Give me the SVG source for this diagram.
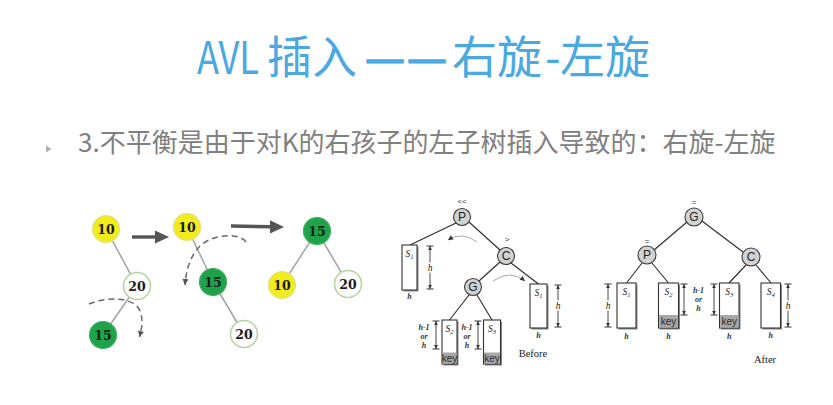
<svg xmlns="http://www.w3.org/2000/svg" width="833" height="405" viewBox="0 0 833 405">
  <defs>
    <style>
      .title { font-family: "Noto Sans CJK SC", "Noto Sans", sans-serif; font-size: 45px; fill: #4AA9DF; }
      .bar { stroke: #4AA9DF; stroke-width: 1.6; }
      .sub { font-family: "Noto Sans CJK SC", "Noto Sans", sans-serif; font-size: 26px; fill: #808080; }
      .edge { stroke: #A3A3A3; stroke-width: 1.5; fill: none; }
      .num { font-family: "DejaVu Serif", "Liberation Serif", serif; font-weight: bold; font-size: 12.5px; fill: #1A1A1A; text-anchor: middle; }
      .yel { fill: #F2EC1C; stroke: #E3E08A; stroke-width: 1.2; }
      .grn { fill: #1FA34A; stroke: #3DAE60; stroke-width: 1.2; }
      .wht { fill: #FFFFFF; stroke: #B9D3A0; stroke-width: 1.6; }
      .fat { stroke: #555555; stroke-width: 3.4; fill: none; }
      .dash { stroke: #6A6A6A; stroke-width: 1.5; fill: none; stroke-dasharray: 6 4; }
      .link { stroke: #2B2B2B; stroke-width: 1.1; fill: none; }
      .gnode { fill: #D2D2D2; stroke: #3A3A3A; stroke-width: 1.1; }
      .glab { font-family: "Liberation Sans", Arial, sans-serif; font-size: 12px; fill: #222; text-anchor: middle; }
      .box { fill: #FFFFFF; stroke: #333333; stroke-width: 1.1; }
      .shade { fill: #8A8A8A; }
      .keybg { fill: #A8A8A8; }
      .key { font-family: "Liberation Sans", Arial, sans-serif; font-size: 10px; fill: #2A2A2A; text-anchor: middle; }
      .it { font-family: "Liberation Serif", "Times New Roman", serif; font-style: italic; font-size: 9.5px; fill: #222; text-anchor: middle; }
      .itb { font-family: "Liberation Serif", "Times New Roman", serif; font-style: italic; font-weight: bold; font-size: 8px; fill: #333; text-anchor: middle; }
      .hl { paint-order: stroke; stroke: #FFFFFF; stroke-width: 3; }
      .dim { stroke: #333; stroke-width: 0.9; fill: none; marker-start: url(#dimEnd); marker-end: url(#dimEnd); }
      .bal { font-family: "Liberation Sans", Arial, sans-serif; font-size: 8px; fill: #333; text-anchor: middle; }
      .cap { font-family: "Liberation Serif", "Times New Roman", serif; font-size: 10.5px; fill: #222; text-anchor: middle; }
      .turn { stroke: #A8A8A8; stroke-width: 1; fill: none; marker-end: url(#tipSmall); }
    </style>
    <marker id="dimEnd" viewBox="-5 -4 6 8" refX="0" refY="0" markerWidth="6" markerHeight="8" markerUnits="userSpaceOnUse" orient="auto-start-reverse">
      <path d="M-4,-1.8 L0,0 L-4,1.8 Z" fill="#333"/>
      <path d="M0,-3.5 V3.5" stroke="#333" stroke-width="1"/>
    </marker>
    <marker id="tipSmall" viewBox="-6 -4 7 8" refX="0" refY="0" markerWidth="7" markerHeight="8" markerUnits="userSpaceOnUse" orient="auto">
      <path d="M-5,-2.5 L0,0 L-5,2.5 Z" fill="#333"/>
    </marker>
    <marker id="tipDash" viewBox="-7 -4 8 8" refX="0" refY="0" markerWidth="8" markerHeight="8" markerUnits="userSpaceOnUse" orient="auto">
      <path d="M-6,-3 L0,0 L-6,3 Z" fill="#555"/>
    </marker>
  </defs>

  <rect width="833" height="405" fill="#FFFFFF"/>

  <!-- heading -->
  <text class="title" y="74"><tspan x="197" textLength="62" lengthAdjust="spacingAndGlyphs">AVL</tspan><tspan x="267">插入</tspan><tspan class="bar" x="365" textLength="40" lengthAdjust="spacingAndGlyphs">—</tspan><tspan class="bar" x="407" textLength="40" lengthAdjust="spacingAndGlyphs">—</tspan><tspan x="452">右旋</tspan><tspan x="545">-</tspan><tspan x="560">左旋</tspan></text>

  <!-- bullet line -->
  <polygon points="46,145.5 51.5,149 46,152.5" fill="#B0B0B0"/>
  <text class="sub" x="78" y="152">3.不平衡是由于对K的右孩子的左子树插入导致的：右旋-左旋</text>

  <!-- ===== left sketch: 10 / 20 / 15 double rotation ===== -->
  <g id="sketch-edges">
    <line class="edge" x1="106" y1="229" x2="137" y2="286"/>
    <line class="edge" x1="137" y1="286" x2="103" y2="335"/>
    <line class="edge" x1="187" y1="227" x2="213" y2="282"/>
    <line class="edge" x1="213" y1="282" x2="244" y2="334"/>
    <line class="edge" x1="317" y1="231" x2="282" y2="285"/>
    <line class="edge" x1="317" y1="231" x2="348" y2="284"/>
    <!-- step arrows -->
    <line class="fat" x1="132" y1="237" x2="157" y2="237"/>
    <polygon points="155,230.5 169,237 155,243.5" fill="#555"/>
    <line class="fat" x1="231" y1="226" x2="272" y2="226.8"/>
    <polygon points="270,220.3 284,227 270,233.5" fill="#555"/>
    <!-- rotation hints -->
    <path class="dash" d="M89,304 C105,297 134,296 140,311 C144,321 141,331 139.5,337" marker-end="url(#tipDash)"/>
    <path class="dash" d="M246,242 C240,233 214,233 200,246 C190,256 186,271 185,285" marker-end="url(#tipDash)"/>
  </g>

  <g id="n10a"><circle class="yel" cx="106" cy="229" r="13.5"/><text class="num" x="106" y="233.5">10</text></g>
  <g id="n20a"><circle class="wht" cx="137" cy="286" r="13.5"/><text class="num" x="137" y="290.5">20</text></g>
  <g id="n15a"><circle class="grn" cx="103" cy="335" r="13.5"/><text class="num" x="103" y="339.5">15</text></g>

  <g id="n10b"><circle class="yel" cx="187" cy="227" r="13.5"/><text class="num" x="187" y="231.5">10</text></g>
  <g id="n15b"><circle class="grn" cx="213" cy="282" r="13.5"/><text class="num" x="213" y="286.5">15</text></g>
  <g id="n20b"><circle class="wht" cx="244" cy="334" r="13.5"/><text class="num" x="244" y="338.5">20</text></g>

  <g id="n15c"><circle class="grn" cx="317" cy="231" r="13.5"/><text class="num" x="317" y="235.5">15</text></g>
  <g id="n10c"><circle class="yel" cx="282" cy="285" r="13.5"/><text class="num" x="282" y="289.5">10</text></g>
  <g id="n20c"><circle class="wht" cx="348" cy="284" r="13.5"/><text class="num" x="348" y="288.5">20</text></g>

  <!-- ===== middle figure: before ===== -->
  <g id="before-links">
    <line class="link" x1="456" y1="223" x2="410" y2="245"/>
    <line class="link" x1="469" y1="222" x2="500" y2="250"/>
    <line class="link" x1="500" y1="262" x2="479" y2="281"/>
    <line class="link" x1="511" y1="263" x2="538.5" y2="284"/>
    <line class="link" x1="469" y1="295" x2="449.5" y2="320"/>
    <line class="link" x1="477" y1="295" x2="492" y2="320"/>
    <path class="turn" d="M477,242 Q462,231 448,240"/>
    <path class="turn" d="M493,281 Q510,269 525,281"/>
  </g>

  <g id="bP"><text class="bal" x="462" y="204">&lt;&lt;</text><circle class="gnode" cx="462" cy="217" r="8.5"/><text class="glab" x="462" y="221.3">P</text></g>
  <g id="bC"><text class="bal" x="507" y="242">&gt;</text><circle class="gnode" cx="506" cy="256" r="8.5"/><text class="glab" x="506" y="260.3">C</text></g>
  <g id="bG"><circle class="gnode" cx="473" cy="287" r="8.5"/><text class="glab" x="473" y="291.3">G</text></g>

  <g id="bS1">
    <rect class="shade" x="403.5" y="246.5" width="15" height="45"/>
    <rect class="box" x="402" y="245" width="15" height="45"/>
    <text class="it" x="409.5" y="257">S<tspan font-size="6.5" dy="2">1</tspan></text>
    <line class="dim" x1="430" y1="246" x2="430" y2="289"/>
    <text class="it hl" x="430" y="271">h</text>
    <text class="itb" x="409.5" y="299">h</text>
  </g>
  <g id="bS4">
    <rect class="shade" x="531.5" y="285.5" width="17" height="44"/>
    <rect class="box" x="530" y="284" width="17" height="44"/>
    <text class="it" x="538.5" y="296">S<tspan font-size="6.5" dy="2">1</tspan></text>
    <line class="dim" x1="558" y1="285" x2="558" y2="327"/>
    <text class="it hl" x="558" y="309">h</text>
    <text class="itb" x="538.5" y="338">h</text>
  </g>
  <g id="bS2">
    <rect class="shade" x="443.5" y="321.5" width="15" height="44"/>
    <rect class="box" x="442" y="320" width="15" height="44"/>
    <rect class="keybg" x="442.6" y="352.5" width="13.8" height="10.9"/>
    <text class="key" x="449.5" y="361.5">key</text>
    <text class="it" x="449.5" y="332">S<tspan font-size="6.5" dy="2">2</tspan></text>
    <line class="dim" x1="436" y1="321" x2="436" y2="349"/>
    <text class="itb" x="424" y="330">h-1</text>
    <text class="itb" x="424" y="339">or</text>
    <text class="itb" x="424" y="348">h</text>
  </g>
  <g id="bS3">
    <rect class="shade" x="485" y="321.5" width="17" height="44"/>
    <rect class="box" x="483.5" y="320" width="17" height="44"/>
    <rect class="keybg" x="484.1" y="352.5" width="15.8" height="10.9"/>
    <text class="key" x="492" y="361.5">key</text>
    <text class="it" x="492" y="332">S<tspan font-size="6.5" dy="2">3</tspan></text>
    <line class="dim" x1="478" y1="321" x2="478" y2="349"/>
    <text class="itb" x="467" y="330">h-1</text>
    <text class="itb" x="467" y="339">or</text>
    <text class="itb" x="467" y="348">h</text>
  </g>
  <text class="cap" x="533" y="357">Before</text>

  <!-- ===== right figure: after ===== -->
  <g id="after-links">
    <line class="link" x1="687" y1="222" x2="654" y2="250"/>
    <line class="link" x1="702" y1="221" x2="743" y2="252"/>
    <line class="link" x1="642" y1="263" x2="626.5" y2="283"/>
    <line class="link" x1="652" y1="263" x2="668.5" y2="283"/>
    <line class="link" x1="746" y1="265" x2="729" y2="283"/>
    <line class="link" x1="756" y1="265" x2="771" y2="283"/>
  </g>

  <g id="aG"><text class="bal" x="694" y="205">=</text><circle class="gnode" cx="694" cy="217" r="9"/><text class="glab" x="694" y="221.3">G</text></g>
  <g id="aP"><text class="bal" x="647" y="244">=</text><circle class="gnode" cx="647" cy="255" r="9"/><text class="glab" x="647" y="259.3">P</text></g>
  <g id="aC"><circle class="gnode" cx="751" cy="257" r="9"/><text class="glab" x="751" y="261.3">C</text></g>

  <g id="aS1">
    <rect class="shade" x="618.5" y="284.5" width="19" height="45"/>
    <rect class="box" x="617" y="283" width="19" height="45"/>
    <text class="it" x="626.5" y="295">S<tspan font-size="6.5" dy="2">1</tspan></text>
    <line class="dim" x1="608" y1="284" x2="608" y2="327"/>
    <text class="it hl" x="608" y="309">h</text>
    <text class="itb" x="626.5" y="339">h</text>
  </g>
  <g id="aS2">
    <rect class="shade" x="660" y="284.5" width="20" height="45"/>
    <rect class="box" x="658.5" y="283" width="20" height="45"/>
    <rect class="keybg" x="659.1" y="315" width="18.8" height="12.4"/>
    <text class="key" x="668.5" y="325">key</text>
    <text class="it" x="668.5" y="295">S<tspan font-size="6.5" dy="2">2</tspan></text>
    <line class="dim" x1="684" y1="284" x2="684" y2="315"/>
    <text class="itb" x="668.5" y="339">h</text>
  </g>
  <text class="itb" x="698.5" y="293">h-1</text>
  <text class="itb" x="698.5" y="302">or</text>
  <text class="itb" x="698.5" y="311">h</text>
  <g id="aS3">
    <rect class="shade" x="721" y="284.5" width="19.5" height="45"/>
    <rect class="box" x="719.5" y="283" width="19.5" height="45"/>
    <rect class="keybg" x="720.1" y="315" width="18.3" height="12.4"/>
    <text class="key" x="729.2" y="325">key</text>
    <text class="it" x="729.2" y="295">S<tspan font-size="6.5" dy="2">3</tspan></text>
    <line class="dim" x1="714" y1="284" x2="714" y2="315"/>
    <text class="itb" x="729.2" y="339">h</text>
  </g>
  <g id="aS4">
    <rect class="shade" x="762.5" y="284.5" width="19.5" height="45"/>
    <rect class="box" x="761" y="283" width="19.5" height="45"/>
    <text class="it" x="770.7" y="295">S<tspan font-size="6.5" dy="2">4</tspan></text>
    <line class="dim" x1="788" y1="284" x2="788" y2="327"/>
    <text class="it hl" x="788" y="309">h</text>
    <text class="itb" x="770.7" y="338">h</text>
  </g>
  <text class="cap" x="765" y="363">After</text>
</svg>
